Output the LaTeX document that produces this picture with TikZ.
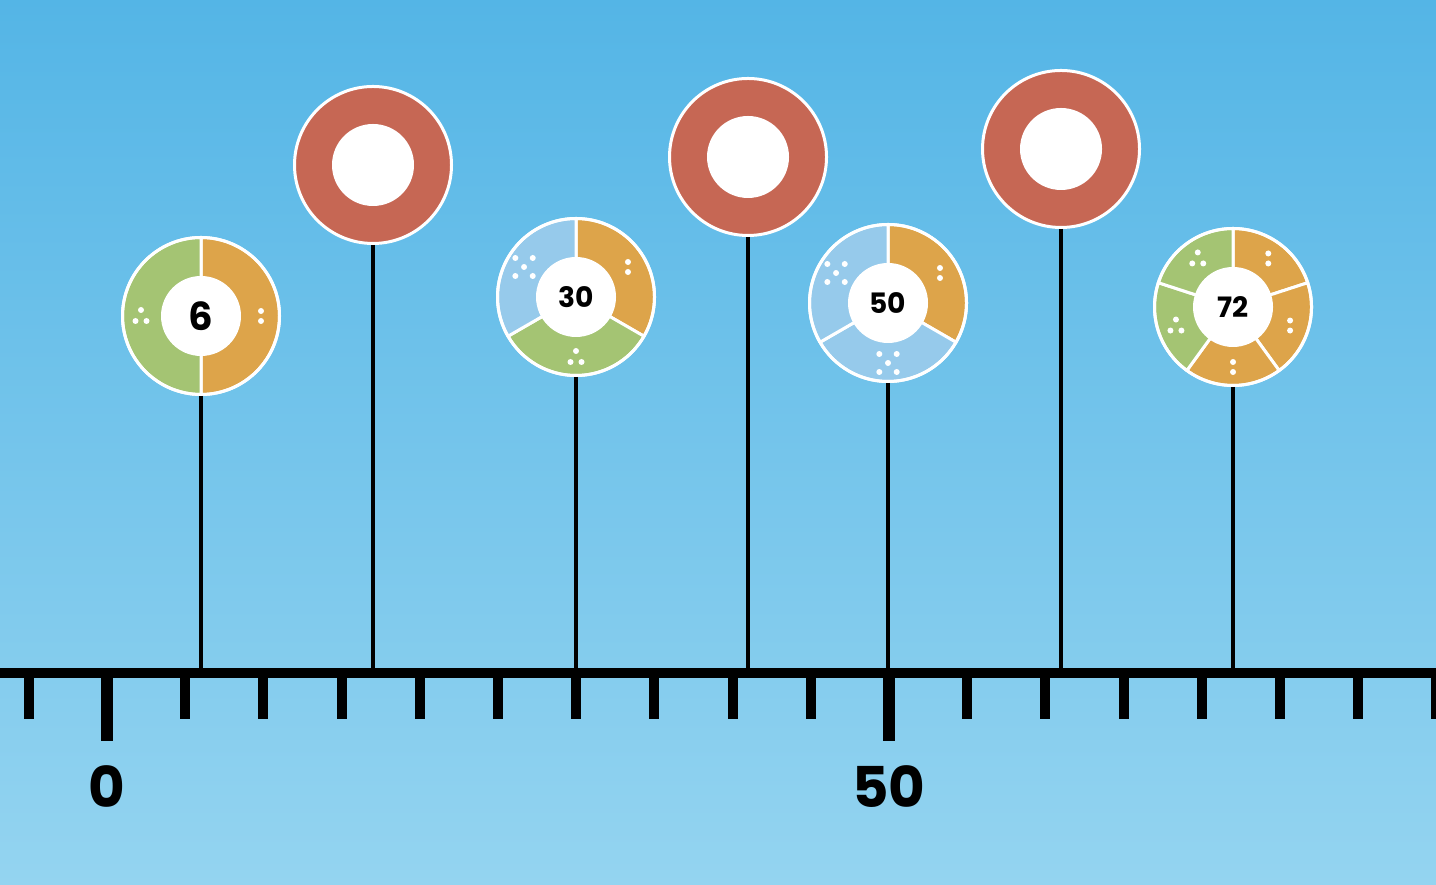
\documentclass[tikz,border=0pt]{standalone}
\usepackage{fontspec}
\setmainfont{Poppins}
\usetikzlibrary{positioning}
\definecolor{skytop}{RGB}{84,181,230}
\definecolor{skybot}{RGB}{148,212,240}
\definecolor{segtwo}{RGB}{221,164,74}
\definecolor{segthree}{RGB}{164,196,115}
\definecolor{segfive}{RGB}{150,202,235}
\definecolor{primered}{RGB}{198,103,84}
% annular piece of a factor wheel: centre, start, end, colour
\newcommand{\ringseg}[4]{\filldraw[segln,fill=#4] (#1) -- ++(#2:0.785)
  arc[start angle=#2,end angle=#3,radius=0.785] -- cycle;}
% pips in a piece: centre, angle
\newcommand{\dotsii}[2]{\fill[pip] ([shift={(#2:0.6)}]#1) ++(0,0.05) circle[radius=0.03]
  ++(0,-0.1) circle[radius=0.03];}
\newcommand{\dotsiii}[2]{\fill[pip] ([shift={(#2:0.6)}]#1) ++(0,0.06) circle[radius=0.03]
  ++(-0.055,-0.11) circle[radius=0.03] ++(0.11,0) circle[radius=0.03];}
\newcommand{\dotsv}[2]{\fill[pip] ([shift={(#2:0.6)}]#1) ++(-0.087,0.09) circle[radius=0.03]
  ++(0.174,0) circle[radius=0.03] ++(-0.087,-0.09) circle[radius=0.03]
  ++(-0.087,-0.09) circle[radius=0.03] ++(0.174,0) circle[radius=0.03];}
\tikzset{
  axisln/.style={line width=0.094cm,black},
  smtick/.style={line width=0.1cm,black},
  bigtick/.style={line width=0.12cm,black},
  numlbl/.style={font=\fontsize{16}{18}\selectfont\bfseries,inner sep=0pt},
  pinstem/.style={line width=0.035cm,black},
  pinrim/.style={circle,draw=white,line width=0.03cm,minimum size=1.57cm,inner sep=0pt},
  pinhub/.style={circle,fill=white,minimum size=0.8cm,inner sep=0pt,
    font=\fontsize{8}{9}\selectfont\bfseries},
  segln/.style={draw=white,line width=0.03cm,line join=round},
  pip/.style={white},
  redpin/.style={circle,fill=primered,draw=white,line width=0.03cm,
    minimum size=1.57cm,inner sep=0pt},
  redhole/.style={circle,fill=white,minimum size=0.82cm,inner sep=0pt},
}

\begin{document}
\begin{tikzpicture}
  % sky
  \shade[top color=skytop,bottom color=skybot] (0,0) rectangle (14.36,8.84);
  \useasboundingbox (0,0) rectangle (14.36,8.84);
  % number line
  \coordinate (west) at (0,2.11);
  \coordinate (east) at (14.36,2.11);
  \draw[axisln] (west) -- (east);
  \foreach \k in {-1,1,2,...,9,11,12,...,17}
    \draw[smtick] ({1.07+0.782*\k},2.11) -- ++(0,-0.46);
  \draw[bigtick] (1.07,2.11) -- ++(0,-0.68);
  \draw[bigtick] (8.89,2.11) -- ++(0,-0.68);
  \node[numlbl] (lzero) at (1.07,0.97) {0};
  \node[numlbl] (lfifty) at (8.89,0.97) {50};
  % 6
  \coordinate (c6) at (2.01,5.68);
  \ringseg{c6}{90}{-90}{segtwo}
  \ringseg{c6}{90}{270}{segthree}
  \node[pinhub,font=\fontsize{11}{12}\selectfont\bfseries] (h6) at (c6) {6};
  \node[pinrim] (p6) at (c6) {};
  \dotsii{c6}{0}
  \dotsiii{c6}{180}
  \coordinate (t6) at (2.01,2.11);
  \draw[pinstem] (p6) -- (t6);
  % 17
  \node[redpin] (p17) at (3.73,7.19) {};
  \node[redhole] (q17) at (p17) {};
  \coordinate (t17) at (3.73,2.11);
  \draw[pinstem] (p17) -- (t17);
  % 30
  \coordinate (c30) at (5.76,5.87);
  \ringseg{c30}{90}{-30}{segtwo}
  \ringseg{c30}{-30}{-150}{segthree}
  \ringseg{c30}{-150}{-270}{segfive}
  \node[pinhub] (h30) at (c30) {30};
  \node[pinrim] (p30) at (c30) {};
  \dotsii{c30}{30}
  \dotsiii{c30}{-90}
  \dotsv{c30}{150}
  \coordinate (t30) at (5.76,2.11);
  \draw[pinstem] (p30) -- (t30);
  % 41
  \node[redpin] (p41) at (7.48,7.27) {};
  \node[redhole] (q41) at (p41) {};
  \coordinate (t41) at (7.48,2.11);
  \draw[pinstem] (p41) -- (t41);
  % 50
  \coordinate (c50) at (8.88,5.81);
  \ringseg{c50}{90}{-30}{segtwo}
  \ringseg{c50}{-30}{-150}{segfive}
  \ringseg{c50}{-150}{-270}{segfive}
  \node[pinhub] (h50) at (c50) {50};
  \node[pinrim] (p50) at (c50) {};
  \dotsii{c50}{30}
  \dotsv{c50}{-90}
  \dotsv{c50}{150}
  \coordinate (t50) at (8.88,2.11);
  \draw[pinstem] (p50) -- (t50);
  % 61
  \node[redpin] (p61) at (10.61,7.35) {};
  \node[redhole] (q61) at (p61) {};
  \coordinate (t61) at (10.61,2.11);
  \draw[pinstem] (p61) -- (t61);
  % 72
  \coordinate (c72) at (12.33,5.77);
  \ringseg{c72}{90}{18}{segtwo}
  \ringseg{c72}{18}{-54}{segtwo}
  \ringseg{c72}{-54}{-126}{segtwo}
  \ringseg{c72}{-126}{-198}{segthree}
  \ringseg{c72}{-198}{-270}{segthree}
  \node[pinhub] (h72) at (c72) {72};
  \node[pinrim] (p72) at (c72) {};
  \dotsii{c72}{54}
  \dotsii{c72}{-18}
  \dotsii{c72}{-90}
  \dotsiii{c72}{-162}
  \dotsiii{c72}{126}
  \coordinate (t72) at (12.33,2.11);
  \draw[pinstem] (p72) -- (t72);
\end{tikzpicture}
\end{document}
